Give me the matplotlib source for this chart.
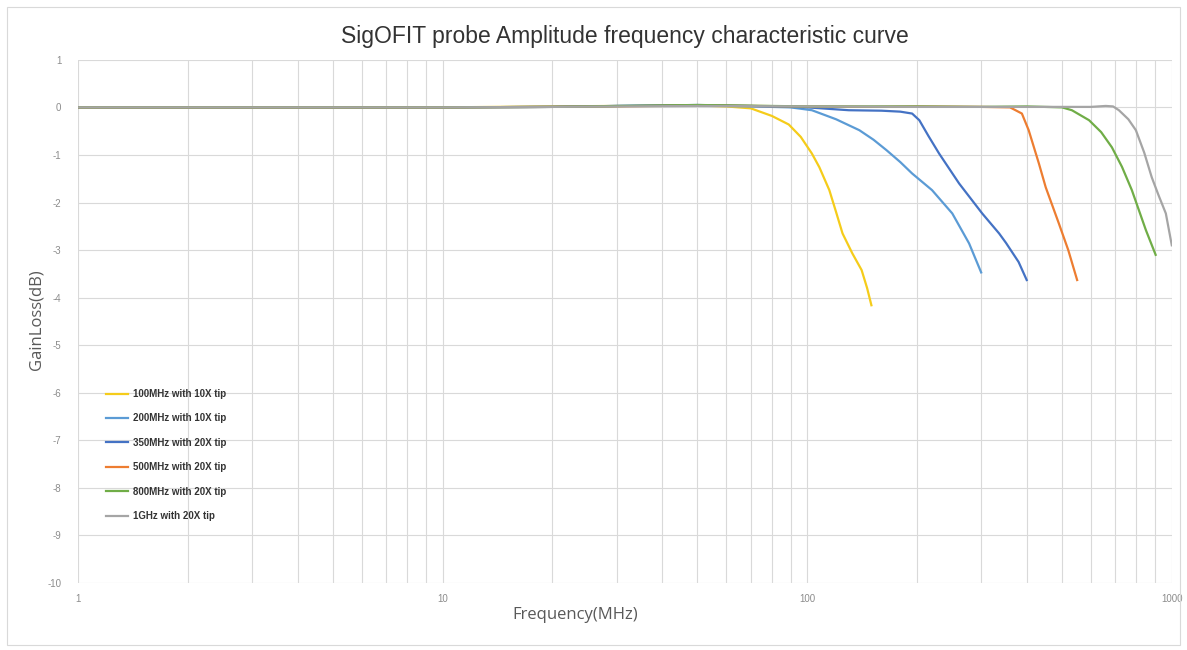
import matplotlib.pyplot as plt
from matplotlib.patches import Rectangle
from matplotlib.ticker import LogLocator, NullFormatter, FixedLocator

plt.rcParams['font.family'] = ['Liberation Sans', 'DejaVu Sans']
plt.rcParams['axes.unicode_minus'] = False

# series (frequency in MHz, gain loss in dB)
yellow_f = [1, 10, 20, 30, 40, 50, 60, 70, 80, 89, 96, 103, 108, 115, 120, 125, 133, 141, 146, 150]
yellow_g = [0, 0, 0.02, 0.03, 0.03, 0.04, 0.02, -0.02, -0.18, -0.36, -0.62, -0.97, -1.26, -1.74, -2.2, -2.65, -3.07, -3.42, -3.8, -4.16]

lblue_f = [1, 10, 20, 30, 50, 70, 90, 103, 120, 139, 152, 165, 180, 194, 220, 250, 278, 300]
lblue_g = [0, 0, 0.01, 0.03, 0.04, 0.02, 0.0, -0.06, -0.25, -0.48, -0.68, -0.9, -1.15, -1.39, -1.74, -2.23, -2.86, -3.47]

dblue_f = [1, 10, 20, 30, 50, 70, 100, 130, 160, 180, 194, 203, 215, 230, 261, 302, 336, 351, 380, 400]
dblue_g = [0, 0, 0.01, 0.03, 0.05, 0.03, 0, -0.06, -0.07, -0.09, -0.13, -0.27, -0.6, -0.97, -1.6, -2.23, -2.65, -2.85, -3.25, -3.63]

orange_f = [1, 10, 20, 50, 100, 150, 200, 300, 360, 388, 405, 432, 451, 490, 520, 550]
orange_g = [0, 0, 0.01, 0.04, 0.02, 0.01, 0.02, 0.01, 0, -0.13, -0.48, -1.18, -1.68, -2.44, -3.0, -3.63]

green_f = [1, 10, 20, 50, 100, 200, 300, 400, 500, 532, 593, 640, 685, 730, 777, 849, 903]
green_g = [0, 0, 0.01, 0.05, 0.02, 0.02, 0.01, 0.02, 0, -0.06, -0.27, -0.52, -0.84, -1.25, -1.74, -2.58, -3.1]

gray_f = [1, 10, 20, 50, 100, 200, 400, 600, 659, 690, 716, 760, 797, 840, 881, 920, 963, 1000]
gray_g = [0, 0, 0.01, 0.03, 0.02, 0.01, 0.01, 0.01, 0.03, 0.02, -0.06, -0.25, -0.48, -0.95, -1.47, -1.85, -2.23, -2.9]

labels = ["100MHz with 10X tip", "200MHz with 10X tip", "350MHz with 20X tip",
          "500MHz with 20X tip", "800MHz with 20X tip", "1GHz with 20X tip"]
colors = ['#F5CC1A', '#5B9BD5', '#4472C4', '#ED7D31', '#70AD47', '#A5A5A5']
series = [(yellow_f, yellow_g), (lblue_f, lblue_g), (dblue_f, dblue_g),
          (orange_f, orange_g), (green_f, green_g), (gray_f, gray_g)]

fig = plt.figure(figsize=(11.87, 6.5), dpi=100)
ax = fig.add_axes([0.0657, 0.103, 0.9215, 0.805])

# light frame round the chart area
fig.patches.append(Rectangle((0.006, 0.008), 0.988, 0.982, transform=fig.transFigure,
                             fill=False, edgecolor='#D9D9D9', linewidth=0.8))

for (f, g), c, lab in zip(series, colors, labels):
    ax.plot(f, g, color=c, linewidth=1.6, label=lab)

ax.set_xscale('log')
ax.set_xlim(1, 1000)
ax.set_ylim(-10, 1)
ax.xaxis.set_major_locator(FixedLocator([1, 10, 100, 1000]))
ax.xaxis.set_major_formatter(plt.FuncFormatter(lambda v, p: '%d' % v))
ax.xaxis.set_minor_locator(LogLocator(base=10, subs=range(2, 10)))
ax.xaxis.set_minor_formatter(NullFormatter())
ax.set_yticks(range(-10, 2))

ax.grid(True, which='both', axis='x', color='#D9D9D9', linewidth=0.8)
ax.grid(True, which='major', axis='y', color='#D9D9D9', linewidth=0.8)
ax.set_axisbelow(True)
for s in ax.spines.values():
    s.set_visible(False)
ax.tick_params(which='both', length=0, colors='#8C8C8C', labelsize=7)
ax.tick_params(axis='x', pad=8)
ax.tick_params(axis='y', pad=12)

ax.set_title("SigOFIT probe Amplitude frequency characteristic curve",
             fontsize=16.5, color='#333333', pad=12)
ax.set_xlabel("Frequency(MHz)", fontsize=12, color='#595959', family=['Open Sans', 'DejaVu Sans'])
ax.xaxis.set_label_coords(0.455, -0.045)
ax.set_ylabel("GainLoss(dB)", fontsize=12, color='#595959', family=['Open Sans', 'DejaVu Sans'])
ax.yaxis.set_label_coords(-0.031, 0.503)

leg = ax.legend(loc='lower left', bbox_to_anchor=(0.018, 0.102), frameon=False,
                prop={'size': 7, 'weight': 'bold'}, handlelength=2.2, labelspacing=1.48,
                handletextpad=0.5)
for t in leg.get_texts():
    t.set_color('#333333')

fig.savefig("out.png", dpi=100)
